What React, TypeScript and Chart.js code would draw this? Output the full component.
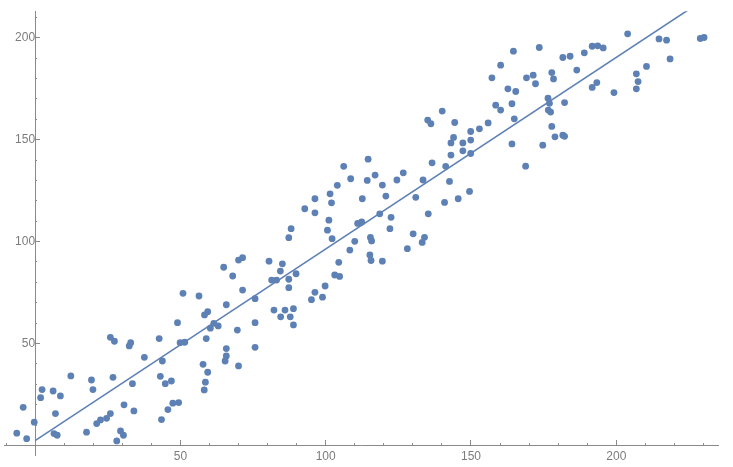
import { useEffect, useRef } from 'react';
import { Chart, registerables } from 'chart.js';

Chart.register(...registerables);

// Scatter data
const xValues = [
  -6.3, -2.9, -4.1, -0.3, 1.9, 2.4, 6.2, 8.7, 7.0, 6.5, 7.6, 12.3, 17.7, 19.4, 19.9, 21.2, 22.5, 24.6, 25.9, 25.9,
  27.3, 26.8, 28.1, 29.4, 30.4, 30.6, 33.5, 34.0, 32.4, 32.9, 37.6, 42.7, 43.1, 43.8, 43.5, 44.8, 45.7, 46.9, 47.4, 49.4,
  49.0, 49.9, 51.5,
  58.9, 60.3, 61.5, 63.0, 69.6, 75.7, 75.7, 65.8, 65.8, 65.4, 70.0, 57.8, 59.4, 58.6, 58.2, 88.9,
  50.9, 56.4, 65.8, 58.3, 59.4, 64.9, 68.0, 70.0, 71.4, 71.4, 75.7, 80.5, 85.1, 84.4, 81.4, 83.1, 87.3, 87.3, 89.8, 87.3,
  88.1, 82.2, 86.0, 88.9, 84.5, 87.8, 92.8, 96.3, 96.3, 100.6, 101.1, 102.2, 101.5, 102.0, 104.0, 106.2, 108.6, 114.3, 112.6, 111.0,
  112.4, 110.0, 108.3, 104.5, 103.1, 104.8, 99.8, 96.3, 95.1, 98.9, 114.6,
  117.0, 119.5, 120.7, 124.5, 126.7, 133.5, 136.6, 141.3, 142.6, 131.0, 140.9, 145.6, 149.5, 168.8, 118.6, 122.5, 122.1, 135.3, 130.1, 134.0,
  133.2, 128.1, 115.4, 115.8, 115.2, 115.6, 119.5,
  135.1, 136.2, 140.1, 144.4, 143.1, 144.0, 143.1, 147.2, 147.2, 149.9, 149.9, 149.9, 152.9, 155.9, 158.5, 160.2, 157.2, 160.2, 162.7, 165.4,
  164.1, 164.9, 164.1, 164.6, 173.5, 169.1, 171.4, 172.2, 174.7, 176.5, 177.0, 176.6, 177.4, 177.8, 178.4, 177.8, 178.9,
  181.6, 184.1, 186.4, 189.0, 191.7, 193.6, 195.5, 203.9, 214.7, 217.3, 228.9, 230.2, 218.5, 210.4, 206.9, 207.5, 206.9, 199.2, 193.3, 191.7,
  182.2, 181.6, 182.2,
];
const yValues = [
  6.0, 3.3, 18.7, 11.4, 23.4, 27.4, 26.7, 24.3, 15.6, 5.8, 5.0, 34.1, 6.5, 32.1, 27.4, 10.7, 12.5, 13.3, 15.6, 53.0,
  51.1, 33.4, 2.2, 7.1, 5.0, 19.9, 30.3, 16.9, 48.8, 50.4, 43.2, 52.4, 33.9, 41.4, 12.7, 30.3, 17.6, 31.6, 20.7, 21.0,
  60.2, 50.4, 50.6,
  52.4, 57.5, 59.9, 58.6, 56.6, 60.2, 48.1, 47.5, 43.9, 41.4, 39.0, 39.8, 35.9, 31.0, 27.2, 59.1,
  74.6, 73.3, 69.0, 64.0, 65.6, 87.4, 83.1, 90.9, 92.1, 76.2, 72.0, 90.4, 89.1, 85.5, 81.1, 81.1, 81.5, 77.4, 84.2, 101.9,
  106.3, 66.4, 66.4, 67.1, 63.1, 63.1, 116.1, 121.0, 114.1, 105.6, 110.5, 101.4, 123.4, 119.0, 127.6, 136.9, 130.8, 130.0, 121.0, 108.9,
  109.6, 100.1, 95.8, 89.8, 83.6, 82.9, 78.2, 75.1, 71.5, 72.7, 140.4,
  132.6, 127.7, 122.3, 130.2, 133.7, 130.2, 138.6, 136.9, 129.5, 121.7, 119.2, 121.0, 124.6, 137.0, 113.6, 111.9, 106.3, 113.6, 103.8, 102.1,
  99.6, 96.5, 102.0, 100.3, 93.4, 90.7, 90.4,
  159.6, 157.8, 164.0, 158.4, 148.4, 151.1, 142.4, 148.4, 144.5, 154.0, 149.8, 143.2, 155.3, 158.2, 166.9, 164.5, 180.3, 186.5, 174.9, 173.6,
  167.6, 160.2, 147.9, 193.4, 195.2, 180.3, 181.6, 177.4, 147.3, 170.3, 167.8, 164.5, 163.5, 182.9, 179.8, 156.5, 151.4,
  190.3, 190.9, 184.1, 192.6, 195.8, 196.0, 195.0, 201.9, 199.4, 198.8, 199.6, 200.1, 189.6, 185.9, 182.3, 178.5, 174.9, 173.1, 178.0, 175.6,
  168.2, 152.2, 151.6,
];

// Fitted line
const fitIntercept = 2.35;
const fitSlope = 0.94;
const fitX = [0, 235];

// Axis tick labels
const xTickLabels = [50, 100, 150, 200];
const yTickLabels = [50, 100, 150, 200];
const minorStep = 10;

const X_MIN = -10.7;
const X_MAX = 235;
const Y_MIN = -4.7;
const Y_MAX = 213;

const POINT_COLOR = '#5E81B5';
const AXIS_COLOR = '#8a8a8a';
const LABEL_COLOR = '#7c7c7c';
const FONT = '"Liberation Sans", Arial, sans-serif';

function minorTicks(min: number, max: number) {
  const out: { value: number }[] = [];
  for (let v = Math.ceil(min / minorStep) * minorStep; v <= max; v += minorStep) {
    if (v !== 0) out.push({ value: v });
  }
  return out;
}

function markScale(axis: 'x' | 'y', min: number, max: number, length: number, ticksFn: () => { value: number }[]) {
  return {
    type: 'linear',
    axis,
    min,
    max,
    position: axis === 'x' ? { y: 0 } : { x: 0 },
    afterBuildTicks: (s: any) => {
      s.ticks = ticksFn();
    },
    grid: { drawOnChartArea: false, drawTicks: true, tickLength: -length, color: AXIS_COLOR, tickColor: AXIS_COLOR },
    border: { display: false },
    ticks: { display: false },
  };
}

function labelScale(axis: 'x' | 'y', min: number, max: number, labels: number[]) {
  return {
    type: 'linear',
    axis,
    min,
    max,
    position: axis === 'x' ? { y: 0 } : { x: 0 },
    afterBuildTicks: (s: any) => {
      s.ticks = labels.map((v) => ({ value: v }));
    },
    grid: { drawOnChartArea: false, drawTicks: false, color: AXIS_COLOR },
    border: { display: true, color: AXIS_COLOR, width: 1 },
    ticks: {
      color: LABEL_COLOR,
      font: { family: FONT, size: 12 },
      padding: 4,
      maxRotation: 0,
      autoSkip: false,
      callback: (v: any) => String(v),
    },
  };
}

export default function App() {
  const ref = useRef<HTMLCanvasElement | null>(null);

  useEffect(() => {
    if (!ref.current) return;
    const points = xValues.map((x, i) => ({ x, y: yValues[i] }));
    const line = fitX.map((x) => ({ x, y: fitIntercept + fitSlope * x }));

    const chart = new Chart(ref.current, {
      type: 'scatter',
      data: {
        datasets: [
          {
            label: 'fit',
            data: line,
            showLine: true,
            borderColor: POINT_COLOR,
            borderWidth: 1.6,
            pointRadius: 0,
            fill: false,
            xAxisID: 'x',
            yAxisID: 'y',
          } as any,
          {
            label: 'data',
            data: points,
            backgroundColor: POINT_COLOR,
            borderWidth: 0,
            pointRadius: 3.4,
            xAxisID: 'x',
            yAxisID: 'y',
          },
        ],
      },
      options: {
        responsive: false,
        animation: false,
        devicePixelRatio: 1,
        layout: { padding: { left: 2, top: 11, right: 15, bottom: 12 } },
        plugins: { legend: { display: false }, tooltip: { enabled: false } },
        scales: {
          x: labelScale('x', X_MIN, X_MAX, xTickLabels),
          xMajor: markScale('x', X_MIN, X_MAX, 5, () => xTickLabels.map((v) => ({ value: v }))),
          xMinor: markScale('x', X_MIN, X_MAX, 2, () => minorTicks(X_MIN, X_MAX)),
          y: labelScale('y', Y_MIN, Y_MAX, yTickLabels),
          yMajor: markScale('y', Y_MIN, Y_MAX, 5, () => yTickLabels.map((v) => ({ value: v }))),
          yMinor: markScale('y', Y_MIN, Y_MAX, 2, () => minorTicks(Y_MIN, Y_MAX)),
        } as any,
      },
    });
    return () => chart.destroy();
  }, []);

  return (
    <div style={{ position: 'absolute', left: 0, top: 0, width: 733, height: 467, background: '#fff' }}>
      <canvas ref={ref} width={733} height={467} style={{ width: 733, height: 467, display: 'block' }} />
    </div>
  );
}
